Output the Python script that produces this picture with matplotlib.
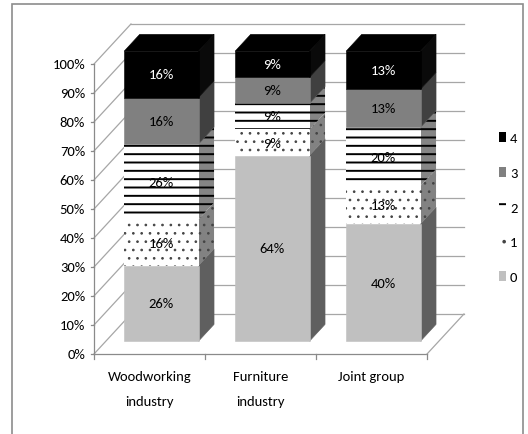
import matplotlib
matplotlib.use("Agg")
import matplotlib.pyplot as plt
from matplotlib.patches import Polygon, Rectangle, Patch

# --- data -------------------------------------------------------------------------
categories = ["Woodworking\nindustry", "Furniture\nindustry", "Joint group"]
series_names = ["0", "1", "2", "3", "4"]
s0 = [26, 64, 40]
s1 = [16, 9, 13]
s2 = [26, 9, 20]
s3 = [16, 9, 13]
s4 = [16, 9, 13]
yticks = [0, 10, 20, 30, 40, 50, 60, 70, 80, 90, 100]

# --- styles per series (front face, side face, hatch, hatch colour, hatch lw, label colour)
FRONT = ["#c0c0c0", "#ffffff", "#ffffff", "#808080", "#000000"]
SIDE = ["#5f5f5f", "#828282", "#858585", "#404040", "#0a0a0a"]
HATCH = [None, "..", "--", None, None]
HCOL = [None, "#444444", "#000000", None, None]
HLW = [1.0, 0.7, 1.4, 1.0, 1.0]
TXT = ["#000000", "#000000", "#000000", "#000000", "#ffffff"]
GRID = "#a6a6a6"
AXC = "#8a8a8a"
FONT = ["Carlito", "DejaVu Sans"]

plt.rcParams["font.family"] = FONT
plt.rcParams["hatch.linewidth"] = 1.4

# pseudo-3D box: full depth offset in (category, percent) units
DX, DY = 0.333, 13.8
Z0, Z1 = 0.32, 0.74          # front / back plane of the bars
HALF = 0.335                 # half bar width in category units


def proj(x, y, z):
    return (x + z * DX, y + z * DY)


fig = plt.figure(figsize=(5.28, 4.35), dpi=100)
ax = fig.add_axes([0, 0, 1, 1])
ax.set_xlim(-94 / 111, (528 - 94) / 111)
ax.set_ylim((355 - 435) / 2.9, 355 / 2.9)
ax.axis("off")

# outer chart frame
fig.patches.append(Rectangle((12 / 528, -0.02), 511 / 528, 1.02 - 5 / 435,
                             transform=fig.transFigure, fill=False,
                             edgecolor="#8c8c8c", linewidth=1.2))

ncat = len(categories)
# walls and floor
for t in yticks:
    (xa, ya), (xb, yb) = proj(0, t, 0), proj(0, t, 1)
    ax.plot([xa, xb], [ya, yb], color=GRID, lw=0.9, zorder=1)
    (xc, yc) = proj(ncat, t, 1)
    ax.plot([xb, xc], [yb, yc], color=GRID, lw=0.9, zorder=1)
    ax.plot([-0.03, 0], [t, t], color=AXC, lw=0.9, zorder=1)
    ax.text(-0.08, t, f"{t}%", ha="right", va="center", fontsize=10.5, color="#000000")
ax.plot([0, 0], [0, 100], color=AXC, lw=0.9, zorder=1)
ax.plot([0, ncat], [0, 0], color=AXC, lw=0.9, zorder=1)
(xa, ya), (xb, yb) = proj(ncat, 0, 0), proj(ncat, 0, 1)
ax.plot([xa, xb], [ya, yb], color=GRID, lw=0.9, zorder=1)
for i in range(ncat + 1):
    ax.plot([i, i], [0, -1.8], color=AXC, lw=0.9, zorder=1)

for i, name in enumerate(categories):
    ax.text(i + 0.5, -5.6, name, ha="center", va="top", fontsize=10.5,
            color="#000000", linespacing=2.3)


def face(pts, k, side=False):
    fc = SIDE[k] if side else FRONT[k]
    with plt.rc_context({"hatch.linewidth": HLW[k]}):
        if HATCH[k]:
            p = Polygon([proj(*q) for q in pts], closed=True, facecolor=fc,
                        edgecolor=HCOL[k], linewidth=0, hatch=HATCH[k], zorder=3)
        else:
            p = Polygon([proj(*q) for q in pts], closed=True, facecolor=fc,
                        edgecolor=fc, linewidth=0.4, zorder=3)
    ax.add_patch(p)


series = [s0, s1, s2, s3, s4]
for i in range(ncat):
    vals = [s[i] for s in series]
    tot = sum(vals)
    xl, xr = i + 0.5 - HALF, i + 0.5 + HALF
    lo = 0.0
    for k, v in enumerate(vals):
        hi = lo + 100.0 * v / tot
        face([(xr, lo, Z0), (xr, lo, Z1), (xr, hi, Z1), (xr, hi, Z0)], k, side=True)
        face([(xl, lo, Z0), (xr, lo, Z0), (xr, hi, Z0), (xl, hi, Z0)], k)
        tx, ty = proj(i + 0.5, (lo + hi) / 2, Z0)
        ax.text(tx, ty, f"{v}%", ha="center", va="center", fontsize=10.5,
                color=TXT[k], zorder=5)
        lo = hi
    top = Polygon([proj(xl, 100, Z0), proj(xr, 100, Z0), proj(xr, 100, Z1), proj(xl, 100, Z1)],
                  closed=True, facecolor="#000000", edgecolor="#000000", lw=0.4, zorder=3)
    ax.add_patch(top)

handles = []
for k in reversed(range(len(series_names))):
    with plt.rc_context({"hatch.linewidth": HLW[k]}):
        if HATCH[k]:
            h = Patch(facecolor=FRONT[k], edgecolor=HCOL[k], linewidth=0, hatch=HATCH[k],
                      label=series_names[k])
        else:
            h = Patch(facecolor=FRONT[k], edgecolor=FRONT[k], linewidth=0,
                      label=series_names[k])
    handles.append(h)
ax.legend(handles=handles, loc="center left", bbox_to_anchor=((499 - 94) / 111, 50.5),
          bbox_transform=ax.transData, frameon=False, fontsize=10.5,
          handlelength=0.45, handleheight=0.65, handletextpad=0.3,
          labelspacing=1.55, borderpad=0, borderaxespad=0)

fig.savefig("out.png", dpi=100)
